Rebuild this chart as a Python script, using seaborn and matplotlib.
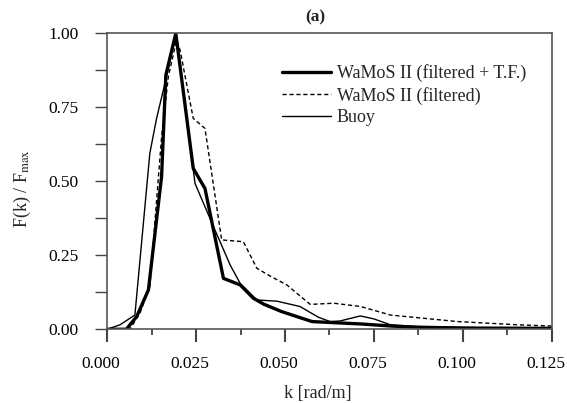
import matplotlib
matplotlib.use("Agg")
import matplotlib.pyplot as plt
import matplotlib.transforms as mtransforms
import seaborn as sns
from matplotlib.ticker import MultipleLocator, FormatStrFormatter

# --- data ---
k_tf = [0.000, 0.0054, 0.0083, 0.0116, 0.0153, 0.0165, 0.0193, 0.0242, 0.0275, 0.0327,
        0.0374, 0.0411, 0.0440, 0.0490, 0.0576, 0.0642, 0.0712, 0.0797, 0.0872, 0.100, 0.125]
f_tf = [0.000, 0.000, 0.043, 0.133, 0.516, 0.859, 1.000, 0.544, 0.476, 0.172,
        0.150, 0.105, 0.085, 0.060, 0.026, 0.022, 0.018, 0.011, 0.007, 0.004, 0.003]

k_filt = [0.000, 0.0064, 0.0092, 0.0120, 0.0153, 0.0172, 0.0195, 0.0205, 0.0242, 0.0275,
          0.0322, 0.0383, 0.0421, 0.0458, 0.0505, 0.0571, 0.0637, 0.0712, 0.0797, 0.0891,
          0.0985, 0.108, 0.1154, 0.125]
f_filt = [0.000, 0.000, 0.054, 0.144, 0.650, 0.854, 0.977, 0.944, 0.713, 0.679,
          0.302, 0.296, 0.206, 0.180, 0.150, 0.084, 0.088, 0.077, 0.048, 0.037,
          0.026, 0.020, 0.015, 0.011]

k_buoy = [0.000, 0.0036, 0.0078, 0.0120, 0.0139, 0.0167, 0.0193, 0.0247, 0.0299, 0.0346,
          0.0374, 0.0421, 0.0477, 0.0542, 0.0595, 0.0627, 0.0655, 0.0712, 0.0750, 0.0797,
          0.0870, 0.0965, 0.110, 0.125]
f_buoy = [0.000, 0.015, 0.048, 0.595, 0.713, 0.854, 1.000, 0.493, 0.347, 0.217,
          0.155, 0.099, 0.095, 0.077, 0.040, 0.026, 0.028, 0.045, 0.035, 0.015,
          0.009, 0.007, 0.004, 0.003]

labels = ["WaMoS II (filtered + T.F.)", "WaMoS II (filtered)", "Buoy"]

sns.set_theme(style="white")
plt.rcParams["font.family"] = ["Liberation Serif", "DejaVu Serif"]
plt.rcParams["mathtext.fontset"] = "stix"

fig = plt.figure(figsize=(5.67, 4.03), dpi=100)
ax = fig.add_axes([0.189, 0.183, 0.784, 0.734])

sns.lineplot(x=k_tf, y=f_tf, ax=ax, color="black", linewidth=2.4, sort=False, label=labels[0])
sns.lineplot(x=k_filt, y=f_filt, ax=ax, color="black", linewidth=1.0, sort=False,
             label=labels[1], linestyle=(0, (3, 2)))
sns.lineplot(x=k_buoy, y=f_buoy, ax=ax, color="black", linewidth=1.0, sort=False, label=labels[2])

ax.set_xlim(0, 0.125)
ax.set_ylim(0, 1.0)
ax.xaxis.set_major_locator(MultipleLocator(0.025))
ax.xaxis.set_minor_locator(MultipleLocator(0.0125))
ax.yaxis.set_major_locator(MultipleLocator(0.25))
ax.yaxis.set_minor_locator(MultipleLocator(0.125))
ax.xaxis.set_major_formatter(FormatStrFormatter("%.3f"))
ax.yaxis.set_major_formatter(FormatStrFormatter("%.2f"))

tc = "#444444"
ax.tick_params(axis="x", which="major", direction="out", length=9.5, width=1.5, color=tc,
               bottom=True, labelsize=12.5, pad=10, labelcolor="black")
ax.tick_params(axis="x", which="minor", direction="out", length=4.5, width=1.3, color=tc, bottom=True)
ax.tick_params(axis="y", which="major", direction="out", length=8.6, width=1.0, color=tc,
               left=True, labelsize=12.5, pad=12, labelcolor="black")
ax.tick_params(axis="y", which="minor", direction="out", length=8.6, width=1.0, color=tc, left=True)

# reference tick labels sit slightly left of their ticks
shift = mtransforms.ScaledTranslation(-6 / 100, 0, fig.dpi_scale_trans)
for lab in ax.get_xticklabels():
    lab.set_transform(lab.get_transform() + shift)

for s in ax.spines.values():
    s.set_color("#555555")
    s.set_linewidth(1.2)

ax.set_xlabel("k [rad/m]", fontsize=13)
ax.xaxis.label.set_verticalalignment("center")
ax.xaxis.set_label_coords(0.473, -0.218)
ax.set_ylabel(r"F(k) / F$_{\mathrm{max}}$", fontsize=13)
ax.yaxis.label.set_verticalalignment("center")
ax.yaxis.set_label_coords(-0.19, 0.477)
ax.set_title("(a)", fontsize=12.5, fontweight="bold", x=0.469, pad=9)

leg = ax.legend(loc="upper left", bbox_to_anchor=(0.378, 0.92), frameon=False, fontsize=13,
                handlelength=2.7, handletextpad=0.3, labelspacing=0.25, borderaxespad=0)

fig.savefig("out.png", dpi=100)
